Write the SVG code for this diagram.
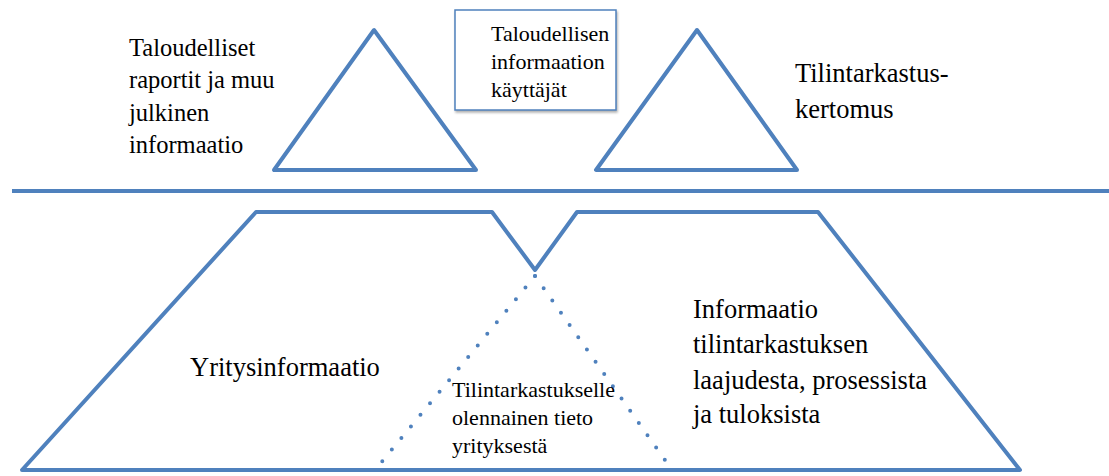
<svg xmlns="http://www.w3.org/2000/svg" width="1109" height="476" viewBox="0 0 1109 476">
<style>
.s{fill:none;stroke:#4F81BD;stroke-width:4;stroke-linejoin:round}
.d{fill:none;stroke:#4F81BD;stroke-width:4;stroke-linecap:round;stroke-dasharray:0 15}
text{font-family:Liberation Serif,Tinos,Times New Roman,DejaVu Serif,serif;fill:#000}
.l{font-size:26.5px}
.m{font-size:24.5px}
.sm{font-size:22px}
</style>
<rect width="1109" height="476" fill="#fff"/>
<g id="connectors">
<line class="s" x1="12" y1="191" x2="1109" y2="191"/>
<line class="d" x1="535" y1="276" x2="375" y2="470"/>
<line class="d" x1="535" y1="276" x2="672" y2="470"/>
</g>
<g id="tri-left"><polygon class="s" points="374,30 274,170 476,170"/></g>
<g id="tri-right"><polygon class="s" points="697,30 596,170 797,170"/></g>
<g id="users">
<rect x="455" y="10" width="161" height="100" fill="#fff" stroke="#4F81BD" stroke-width="1.5" style="filter:drop-shadow(1px 2px 1px rgba(0,0,0,0.3))"/>
<text class="sm" x="491" y="41">Taloudellisen</text>
<text class="sm" x="491" y="69">informaation</text>
<text class="sm" x="491" y="97">käyttäjät</text>
</g>
<g id="base"><polygon class="s" points="22,470 256,212 492,212 535,270 577,212 818,212 1020,470"/></g>
<g id="label-reports">
<text class="m" x="129" y="56">Taloudelliset</text>
<text class="m" x="129" y="88">raportit ja muu</text>
<text class="m" x="129" y="121">julkinen</text>
<text class="m" x="129" y="153">informaatio</text>
</g>
<g id="label-report"><text class="l" x="795" y="82">Tilintarkastus-</text><text class="l" x="795" y="118">kertomus</text></g>
<g id="label-company"><text class="l" x="190" y="376">Yritysinformaatio</text></g>
<g id="label-relevant">
<text class="sm" x="452" y="397">Tilintarkastukselle</text>
<text class="sm" x="452" y="425">olennainen tieto</text>
<text class="sm" x="452" y="453">yrityksestä</text>
</g>
<g id="label-audit">
<text class="l" x="693" y="318">Informaatio</text>
<text class="l" x="693" y="353">tilintarkastuksen</text>
<text class="l" x="693" y="389">laajudesta, prosessista</text>
<text class="l" x="693" y="423">ja tuloksista</text>
</g>
</svg>
